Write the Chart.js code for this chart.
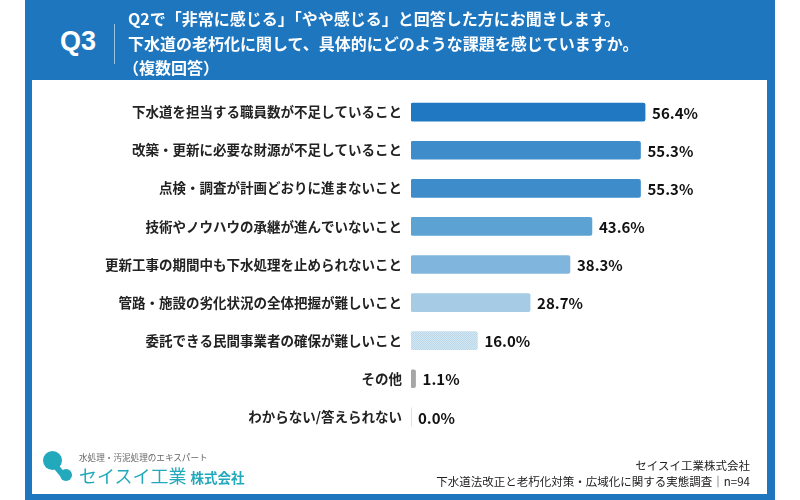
<!DOCTYPE html>
<html lang="ja">
<head>
<meta charset="utf-8">
<script src="https://cdn.jsdelivr.net/npm/chart.js@4.4.1/dist/chart.umd.min.js"></script>
<style>
  html, body { margin: 0; padding: 0; background: #fff; }
  body { width: 800px; height: 500px; position: relative; overflow: hidden;
         font-family: "Noto Sans CJK JP", "Noto Sans", sans-serif; }
  #frame { position: absolute; left: 25px; top: 0; width: 750px; height: 500px; background: #1e76bf; }
  #inner { position: absolute; left: 32px; top: 80px; width: 735px; height: 414px; background: #fff; }
  #q { position: absolute; left: 60px; top: 26px; color: #fff; font: bold 27px "Liberation Sans", Arial, sans-serif; }
  #divider { position: absolute; left: 114px; top: 24px; width: 1px; height: 40px; background: rgba(255,255,255,0.55); }
  #title { position: absolute; left: 128px; top: 6px; color: #fff; font-weight: bold; font-size: 16px; line-height: 24.5px; white-space: nowrap; }
  #chart { position: absolute; left: 32px; top: 76px; }
  #logo-sub { position: absolute; left: 79px; top: 451px; font-size: 8.6px; color: #666; white-space: nowrap; }
  #logo-main { position: absolute; left: 79px; top: 462px; font-size: 18px; color: #22a9bc; white-space: nowrap; }
  #logo-main span { font-size: 13.5px; font-weight: bold; margin-left: 4px; }
  .dot { position: absolute; border-radius: 50%; background: #22a9bc; }
  #neck { position: absolute; left: 55px; top: 462px; width: 6px; height: 14px; background: #22a9bc; transform: rotate(-40deg); }
  #source { position: absolute; right: 50px; top: 457px; font-size: 11.5px; line-height: 16px; color: #222; text-align: right; white-space: nowrap; }
</style>
</head>
<body>
<div id="frame"></div>
<div id="inner"></div>
<canvas id="chart" width="735" height="377"></canvas>
<div id="q">Q3</div>
<div id="divider"></div>
<div id="title">Q2で「非常に感じる」「やや感じる」と回答した方にお聞きします。<br>下水道の老朽化に関して、具体的にどのような課題を感じていますか。<br><span style="margin-left:-5px">（複数回答）</span></div>
<div class="dot" style="left:43px;top:451px;width:19px;height:19px;"></div>
<div id="neck"></div>
<div class="dot" style="left:60px;top:469px;width:12px;height:12px;"></div>
<div id="logo-sub">水処理・汚泥処理のエキスパート</div>
<div id="logo-main">セイスイ工業<span>株式会社</span></div>
<div id="source">セイスイ工業株式会社<br>下水道法改正と老朽化対策・広域化に関する実態調査｜n=94</div>

<script>
var categories = [
  "下水道を担当する職員数が不足していること",
  "改築・更新に必要な財源が不足していること",
  "点検・調査が計画どおりに進まないこと",
  "技術やノウハウの承継が進んでいないこと",
  "更新工事の期間中も下水処理を止められないこと",
  "管路・施設の劣化状況の全体把握が難しいこと",
  "委託できる民間事業者の確保が難しいこと",
  "その他",
  "わからない/答えられない"
];
var values = [56.4, 55.3, 55.3, 43.6, 38.3, 28.7, 16.0, 1.1, 0.0];

// fine dotted fill for the 7th bar
function dotPattern() {
  var c = document.createElement("canvas");
  c.width = 2; c.height = 2;
  var g = c.getContext("2d");
  g.fillStyle = "#d3e7f2";
  g.fillRect(0, 0, 2, 2);
  g.fillStyle = "#bad8ea";
  g.fillRect(0, 0, 1, 1);
  g.fillRect(1, 1, 1, 1);
  return g.createPattern(c, "repeat");
}

var colors = ["#1f78c1", "#3e8cca", "#3e8cca", "#5ca2d3", "#80b6dd", "#a5cbe5", dotPattern(), "#a6a6a6", "#a6a6a6"];

var valueLabels = {
  id: "valueLabels",
  afterDatasetsDraw: function(chart) {
    var ctx = chart.ctx;
    var meta = chart.getDatasetMeta(0);
    ctx.save();
    ctx.font = "bold 15px 'Noto Sans CJK JP', sans-serif";
    ctx.fillStyle = "#111";
    ctx.textBaseline = "middle";
    ctx.textAlign = "left";
    meta.data.forEach(function(bar, i) {
      ctx.fillText(values[i].toFixed(1) + "%", bar.x + 7, bar.y + 1);
    });
    ctx.restore();
  }
};

new Chart(document.getElementById("chart"), {
  type: "bar",
  data: {
    labels: categories,
    datasets: [{
      data: values,
      backgroundColor: colors,
      borderRadius: 2,
      borderSkipped: false,
      barThickness: 18
    }]
  },
  options: {
    indexAxis: "y",
    responsive: false,
    animation: false,
    layout: { padding: { top: 6, bottom: 3, left: 0, right: 24 } },
    plugins: { legend: { display: false }, tooltip: { enabled: false } },
    scales: {
      x: { display: false, min: 0, max: 80 },
      y: {
        afterFit: function(scale) { scale.width = 379; },
        grid: { display: false, drawTicks: false },
        border: { display: false },
        ticks: {
          padding: 9,
          color: "#222",
          font: { family: "'Noto Sans CJK JP', sans-serif", size: 13.5, weight: "bold" }
        }
      }
    }
  },
  plugins: [valueLabels]
});
</script>
</body>
</html>
